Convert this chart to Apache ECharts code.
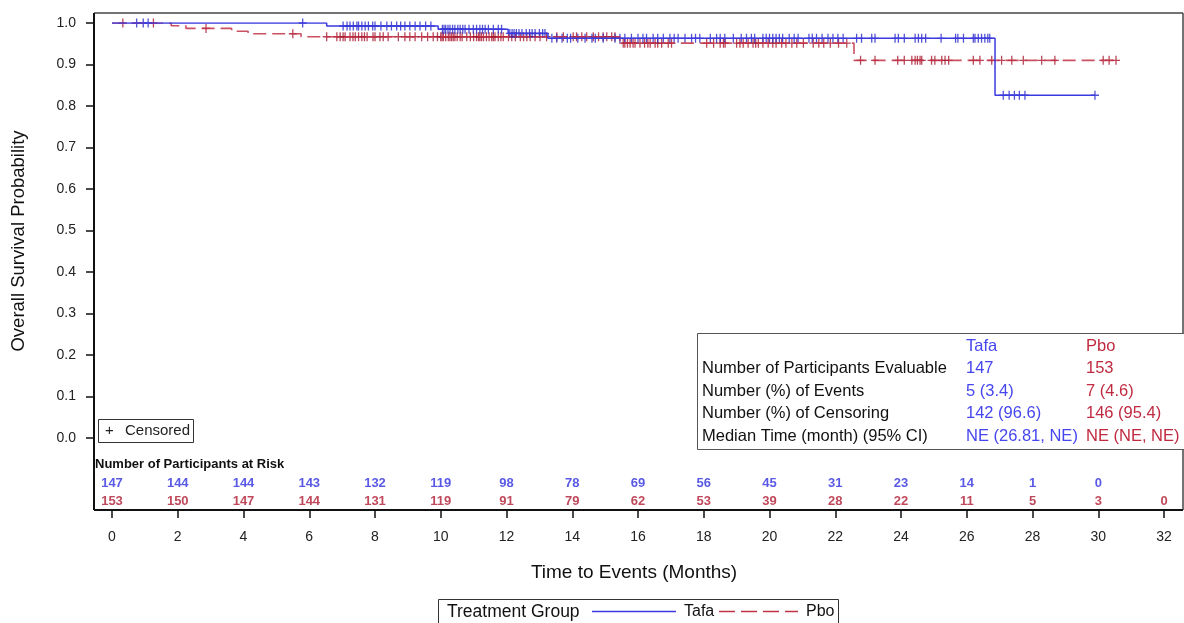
<!DOCTYPE html>
<html>
<head>
<meta charset="utf-8">
<title>Overall Survival by Treatment Group</title>
<script src="https://cdn.jsdelivr.net/npm/echarts@6/dist/echarts.min.js"></script>
<style>
  html, body { margin: 0; padding: 0; background: #fff; }
  #chart { width: 1184px; height: 623px; }
</style>
</head>
<body>
<div id="chart"></div>
<script>
// Kaplan-Meier step points: [month, survival probability]
const tafaSteps = [[0, 1], [6.53, 0.993], [9.92, 0.985], [12.05, 0.975], [13.26, 0.963], [26.86, 0.826], [29.9, 0.826]];
const pboSteps = [[0, 1], [1.8, 0.9935], [2.25, 0.987], [3.64, 0.980], [4.14, 0.974], [5.75, 0.967], [15.45, 0.9515], [22.57, 0.910], [30.54, 0.910]];

// Censoring times (months)
const tafaCensor = [
  0.75, 0.95, 1.1,
  5.8,
  7.03, 7.15, 7.24, 7.34, 7.45, 7.5, 7.6, 7.7, 7.8, 7.93,
  8.0, 8.18, 8.36, 8.5, 8.66, 8.78, 8.91, 9.06, 9.22, 9.37, 9.54, 9.7,
  10.05, 10.1, 10.15, 10.22, 10.28, 10.36, 10.43, 10.52, 10.59, 10.67, 10.74, 10.86, 10.99, 11.09, 11.19, 11.27, 11.35, 11.45, 11.6, 11.75, 11.85,
  12.1, 12.17, 12.23, 12.3, 12.38, 12.47, 12.6, 12.7, 12.78, 12.87, 13.0, 13.1, 13.17, 13.38, 13.53, 13.69, 13.85, 13.95,
  14.17, 14.39, 14.6, 14.7, 14.94, 15.3, 15.45, 15.6, 15.8,
  16.0, 16.15, 16.26, 16.46, 16.6, 16.77, 16.97, 17.1, 17.22, 17.43, 17.63, 17.75, 17.88,
  18.2, 18.39, 18.5, 18.64, 18.9, 19.14, 19.3, 19.45, 19.55, 19.8, 19.9,
  20.0, 20.1, 20.2, 20.3, 20.4, 20.6, 20.75, 20.87, 21.2, 21.3, 21.43, 21.6, 21.78, 21.93,
  22.08, 22.24, 22.65, 22.8, 23.11, 23.21, 23.82, 23.92,
  24.1, 24.43, 24.53, 24.63, 24.75, 25.22, 25.66, 25.73, 25.9,
  26.2, 26.25, 26.35, 26.45, 26.55, 26.64, 26.7, 27.11, 27.29, 27.45, 27.6, 27.77,
  29.9
];
const pboCensor = [
  0.33, 1.26,
  2.86,
  5.5,
  6.53, 6.84, 6.94, 7.03, 7.09, 7.24, 7.33, 7.4, 7.5, 7.6, 7.68, 7.76, 7.94,
  8.0, 8.15, 8.25, 8.4, 8.71, 8.91, 9.06, 9.22, 9.42, 9.6, 9.77, 9.9,
  10.0, 10.04, 10.08, 10.15, 10.23, 10.28, 10.33, 10.38, 10.43, 10.5, 10.59, 10.65, 10.79, 10.9, 11.0, 11.09, 11.15, 11.19, 11.24, 11.3, 11.39, 11.47, 11.55, 11.6, 11.65, 11.75, 11.83, 11.9,
  12.06, 12.16, 12.27, 12.42, 12.52, 12.62, 12.72, 12.87, 13.02, 13.22, 13.53, 13.73,
  14.03, 14.13, 14.29, 14.44, 14.64, 14.8, 14.94, 15.05, 15.2, 15.3, 15.55, 15.6, 15.68, 15.76, 15.85, 15.91,
  16.06, 16.2, 16.3, 16.37, 16.52, 16.6, 16.72, 16.92, 17.02,
  18.09, 18.3, 18.5, 18.6, 18.65, 19.0, 19.1, 19.2, 19.35, 19.5, 19.58, 19.66, 19.8, 19.96,
  20.1, 20.2, 20.37, 20.5, 20.68, 20.83, 21.03, 21.33, 21.5, 21.65, 21.85,
  22.1, 22.35, 22.77, 23.21, 23.9,
  24.1, 24.33, 24.43, 24.5, 24.58, 24.63, 24.93, 25.03, 25.24, 25.34, 25.45,
  26.2, 26.4, 26.76, 27.06, 27.37, 27.72,
  28.28, 28.68,
  30.15, 30.33, 30.54
];

// Number of participants at risk
const riskTimes = [0, 2, 4, 6, 8, 10, 12, 14, 16, 18, 20, 22, 24, 26, 28, 30, 32];
const tafaRisk = [147, 144, 144, 143, 132, 119, 98, 78, 69, 56, 45, 31, 23, 14, 1, 0];
const pboRisk = [153, 150, 147, 144, 131, 119, 91, 79, 62, 53, 39, 28, 22, 11, 5, 3, 0];

// Summary table
const summaryRows = [
  'Number of Participants Evaluable',
  'Number (%) of Events',
  'Number (%) of Censoring',
  'Median Time (month) (95% CI)'
];
const tafaSummary = ['147', '5 (3.4)', '142 (96.6)', 'NE (26.81, NE)'];
const pboSummary = ['153', '7 (4.6)', '146 (95.4)', 'NE (NE, NE)'];

const groupNames = ['Tafa', 'Pbo'];

const BLUE_LINE = '#3a3ae0';
const BLUE_MARK = '#2626c8';
const BLUE_TEXT = '#4646ee';
const RED_LINE = '#c23246';
const RED_MARK = '#a8162e';
const RED_TEXT = '#c02a40';
const FONT = 'Liberation Sans, Arial, sans-serif';

function survivalAt(steps, t) {
  let v = steps[0][1];
  for (const s of steps) { if (s[0] <= t) v = s[1]; }
  return v;
}

const PLUS = 'path://M4.2,0 H5.8 V4.2 H10 V5.8 H5.8 V10 H4.2 V5.8 H0 V4.2 H4.2 Z';

const chart = echarts.init(document.getElementById('chart'), null, { renderer: 'canvas' });

const frame = { left: 94, top: 13, right: 1183, bottom: 510 };

const graphics = [
  // plot frame
  { type: 'line', shape: { x1: frame.left, y1: frame.top, x2: frame.right, y2: frame.top }, style: { stroke: '#444', lineWidth: 1.5 } },
  { type: 'line', shape: { x1: frame.right, y1: frame.top, x2: frame.right, y2: frame.bottom }, style: { stroke: '#444', lineWidth: 1.5 } },
  { type: 'line', shape: { x1: frame.left, y1: frame.top, x2: frame.left, y2: frame.bottom }, style: { stroke: '#111', lineWidth: 2 } },
  { type: 'line', shape: { x1: frame.left, y1: frame.bottom, x2: frame.right, y2: frame.bottom }, style: { stroke: '#111', lineWidth: 2 } },
  // axis titles
  { type: 'text', x: 19, y: 241, rotation: Math.PI / 2, style: { text: 'Overall Survival Probability', font: '18.5px ' + FONT, fill: '#111', align: 'center', verticalAlign: 'middle' } },
  { type: 'text', x: 634, y: 573, style: { text: 'Time to Events (Months)', font: '19px ' + FONT, fill: '#111', align: 'center', verticalAlign: 'middle' } },
  // at-risk header
  { type: 'text', x: 95, y: 464, style: { text: 'Number of Participants at Risk', font: 'bold 13px ' + FONT, fill: '#111', align: 'left', verticalAlign: 'middle' } },
  // censored key
  { type: 'rect', shape: { x: 98.5, y: 419.5, width: 95, height: 23 }, style: { fill: '#fff', stroke: '#333', lineWidth: 1 } },
  { type: 'text', x: 105, y: 431, style: { text: '+', font: '15px ' + FONT, fill: '#222', align: 'left', verticalAlign: 'middle' } },
  { type: 'text', x: 125, y: 431, style: { text: 'Censored', font: '15px ' + FONT, fill: '#222', align: 'left', verticalAlign: 'middle' } },
  // summary box
  { type: 'rect', shape: { x: 697.5, y: 333.5, width: 500, height: 116 }, style: { fill: '#fff', stroke: '#555', lineWidth: 1 } },
  { type: 'text', x: 966, y: 346, style: { text: groupNames[0], font: '16.5px ' + FONT, fill: BLUE_TEXT, align: 'left', verticalAlign: 'middle' } },
  { type: 'text', x: 1086, y: 346, style: { text: groupNames[1], font: '16.5px ' + FONT, fill: RED_TEXT, align: 'left', verticalAlign: 'middle' } },
  // legend
  { type: 'rect', shape: { x: 438.5, y: 599.5, width: 400, height: 30 }, style: { fill: '#fff', stroke: '#333', lineWidth: 1 } },
  { type: 'text', x: 447, y: 612, style: { text: 'Treatment Group', font: '17.5px ' + FONT, fill: '#111', align: 'left', verticalAlign: 'middle' } },
  { type: 'line', shape: { x1: 592, y1: 611.5, x2: 676, y2: 611.5 }, style: { stroke: BLUE_LINE, lineWidth: 1.5 } },
  { type: 'text', x: 684, y: 612, style: { text: groupNames[0], font: '16px ' + FONT, fill: '#111', align: 'left', verticalAlign: 'middle' } },
  { type: 'line', shape: { x1: 719, y1: 611.5, x2: 798, y2: 611.5 }, style: { stroke: RED_LINE, lineWidth: 1.5, lineDash: [16, 6] } },
  { type: 'text', x: 806, y: 612, style: { text: groupNames[1], font: '16px ' + FONT, fill: '#111', align: 'left', verticalAlign: 'middle' } }
];

summaryRows.forEach((row, i) => {
  const y = 368.5 + i * 22.7;
  graphics.push({ type: 'text', x: 702, y: y, style: { text: row, font: '16.5px ' + FONT, fill: '#111', align: 'left', verticalAlign: 'middle' } });
  graphics.push({ type: 'text', x: 966, y: y, style: { text: tafaSummary[i], font: '16.5px ' + FONT, fill: BLUE_TEXT, align: 'left', verticalAlign: 'middle' } });
  graphics.push({ type: 'text', x: 1086, y: y, style: { text: pboSummary[i], font: '16.5px ' + FONT, fill: RED_TEXT, align: 'left', verticalAlign: 'middle' } });
});

const riskLabel = (color) => ({
  show: true, position: 'inside', color: color, fontFamily: FONT, fontWeight: 'bold', fontSize: 13,
  formatter: (p) => String(p.value[2])
});

const tickStyle = { color: '#111', width: 1.5 };

const option = {
  animation: false,
  backgroundColor: '#fff',
  grid: [
    // survival curves
    { left: 112, right: 20, top: 23, bottom: 185 },
    // at-risk rows
    { left: 112, right: 20, top: 474, height: 36 },
    // time axis along the bottom of the frame
    { left: 112, right: 20, top: 23, bottom: 113 },
    // probability axis along the left of the frame
    { left: 94, right: 20, top: 23, bottom: 185 }
  ],
  xAxis: [
    { gridIndex: 0, type: 'value', min: 0, max: 32, show: false },
    { gridIndex: 1, type: 'value', min: 0, max: 32, show: false },
    {
      gridIndex: 2, type: 'value', min: 0, max: 32, interval: 2,
      axisLine: { show: false },
      axisTick: { show: true, length: 8, lineStyle: tickStyle },
      axisLabel: { fontSize: 14, color: '#222', fontFamily: FONT, margin: 20 },
      splitLine: { show: false }
    },
    { gridIndex: 3, type: 'value', min: 0, max: 1, show: false }
  ],
  yAxis: [
    { gridIndex: 0, type: 'value', min: 0, max: 1, show: false },
    { gridIndex: 1, type: 'category', data: ['Pbo', 'Tafa'], show: false },
    { gridIndex: 2, type: 'value', min: 0, max: 1, show: false },
    {
      gridIndex: 3, type: 'value', min: 0, max: 1, interval: 0.1,
      axisLine: { show: false },
      axisTick: { show: true, length: 8, lineStyle: tickStyle },
      axisLabel: { fontSize: 14, color: '#222', fontFamily: FONT, margin: 18, formatter: (v) => v.toFixed(1) },
      splitLine: { show: false }
    }
  ],
  series: [
    {
      name: 'Pbo', type: 'line', step: 'end', data: pboSteps, showSymbol: false,
      xAxisIndex: 0, yAxisIndex: 0,
      lineStyle: { color: RED_LINE, width: 1.6, type: [13, 6], opacity: 0.85 }
    },
    {
      name: 'Tafa', type: 'line', step: 'end', data: tafaSteps, showSymbol: false,
      xAxisIndex: 0, yAxisIndex: 0,
      lineStyle: { color: BLUE_LINE, width: 1.5 }
    },
    {
      name: 'Pbo censored', type: 'scatter', xAxisIndex: 0, yAxisIndex: 0,
      symbol: PLUS, symbolSize: [8, 9],
      itemStyle: { color: RED_MARK },
      data: pboCensor.map((t) => [t, survivalAt(pboSteps, t)])
    },
    {
      name: 'Tafa censored', type: 'scatter', xAxisIndex: 0, yAxisIndex: 0,
      symbol: PLUS, symbolSize: [8, 9],
      itemStyle: { color: BLUE_MARK },
      data: tafaCensor.map((t) => [t, survivalAt(tafaSteps, t)])
    },
    {
      name: 'Tafa at risk', type: 'scatter', xAxisIndex: 1, yAxisIndex: 1,
      symbolSize: 1, itemStyle: { color: 'rgba(0,0,0,0)' },
      label: riskLabel('#2f2fe0'),
      data: tafaRisk.map((n, i) => [riskTimes[i], 1, n])
    },
    {
      name: 'Pbo at risk', type: 'scatter', xAxisIndex: 1, yAxisIndex: 1,
      symbolSize: 1, itemStyle: { color: 'rgba(0,0,0,0)' },
      label: riskLabel('#b01a32'),
      data: pboRisk.map((n, i) => [riskTimes[i], 0, n])
    }
  ],
  graphic: graphics
};

chart.setOption(option);
</script>
</body>
</html>
